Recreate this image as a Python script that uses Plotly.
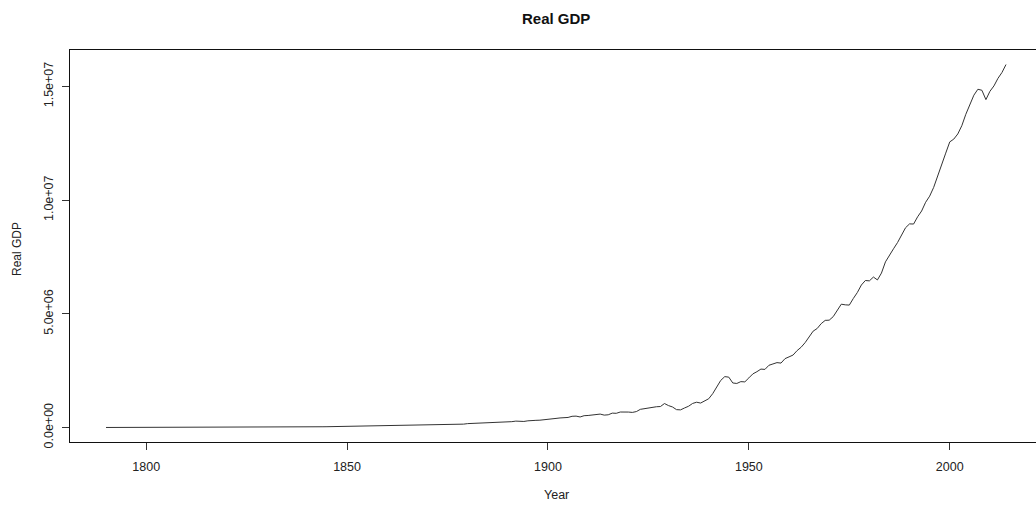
import plotly.graph_objects as go

years = list(range(1790, 2015))

gdp_1790_1928 = [
    4028, 4254, 4432, 4634, 4969, 5234, 5413, 5569, 5809, 6202,
    6537, 6954, 7206, 7253, 7581, 8046, 8461, 8536, 8380, 9127,
    9582, 9908, 10165, 10609, 10828, 10842, 10934, 11264, 11690, 11917,
    12490, 12968, 13550, 13837, 14478, 15303, 15691, 16591, 16854, 17228,
    19108, 20966, 22055, 23457, 23645, 25617, 27014, 27352, 28738, 30042,
    30165, 30819, 31971, 33501, 36282, 37852, 40849, 44151, 44924, 45480,
    48742, 52085, 56917, 61225, 64013, 66281, 68057, 69262, 71436, 77271,
    77863, 79143, 87074, 92152, 93616, 92998, 92141, 94285, 96796, 98518,
    98394, 100873, 104735, 112683, 112233, 114817, 123186, 130135, 136788, 150981,
    174281, 180154, 191183, 195311, 200227, 203859, 210541, 218945, 222081, 232253,
    251010, 259867, 284111, 274022, 269217, 297060, 293337, 318102, 325097, 352142,
    363574, 400129, 402931, 423061, 418952, 445131, 495957, 504195, 465780, 521985,
    531806, 546044, 574862, 593034, 547758, 562074, 634346, 626985, 683962, 691264,
    682418, 666007, 702698, 802111, 828089, 853109, 906860, 916064, 924999,
]

gdp_1929_2014 = [
    1056600, 966700, 904800, 788200, 778300, 862200, 939000, 1060500, 1114600, 1077700,
    1163600, 1266100, 1490300, 1771800, 2073700, 2239400, 2217800, 1960900, 1939400, 2020000,
    2008900, 2184000, 2360000, 2456100, 2571400, 2556900, 2739000, 2797400, 2856300, 2835300,
    3031000, 3108700, 3188100, 3383100, 3530400, 3734000, 3976700, 4238900, 4355200, 4569000,
    4712500, 4722000, 4877600, 5134300, 5424100, 5396000, 5385400, 5675400, 5937000, 6267200,
    6466200, 6450400, 6617700, 6491300, 6792000, 7285000, 7593800, 7860500, 8132600, 8474500,
    8786400, 8955000, 8948400, 9266600, 9521000, 9905400, 10174800, 10561000, 11034900, 11525900,
    12065900, 12559700, 12682200, 12908800, 13271100, 13773500, 14234200, 14613800, 14873700, 14830400,
    14418700, 14783800, 15020600, 15354600, 15612200, 15961700,
]

real_gdp = gdp_1790_1928 + gdp_1929_2014

y_tickvals = [0, 5e6, 1e7, 1.5e7]
y_ticktext = ["0.0e+00", "5.0e+06", "1.0e+07", "1.5e+07"]
x_tickvals = [1800, 1850, 1900, 1950, 2000]

FONT = "Liberation Sans, Arial, Helvetica, sans-serif"

# R-style 4% axis padding
x0, x1 = min(years), max(years)
xpad = 0.04 * (x1 - x0)
xr = [x0 - xpad, x1 + xpad]
y0, y1 = min(real_gdp), max(real_gdp)
ypad = 0.04 * (y1 - y0)
yr = [y0 - ypad, y1 + ypad]

W, H = 1036, 506
ml, mt, mb = 70, 50, 64
# R plot region extends slightly past the right edge of the image
full_right_px = 1042
vis_frac = (W - ml) / (full_right_px - ml)
xr_vis = [xr[0], xr[0] + (xr[1] - xr[0]) * vis_frac]
xmid = (xr[0] + xr[1]) / 2

fig = go.Figure()
fig.add_trace(go.Scatter(
    x=years, y=real_gdp, mode="lines",
    line=dict(color="#333333", width=1),
    hoverinfo="x+y", showlegend=False,
))

fig.update_layout(
    width=W, height=H,
    margin=dict(l=ml, r=0, t=mt, b=mb, pad=0),
    paper_bgcolor="white", plot_bgcolor="white",
    font=dict(family=FONT, size=12, color="#111111"),
    showlegend=False,
    xaxis=dict(
        range=xr_vis, tickmode="array", tickvals=x_tickvals,
        ticks="outside", ticklen=7, tickwidth=1, tickcolor="#333333",
        showline=True, linecolor="#111111", linewidth=1, mirror=True,
        showgrid=False, zeroline=False, automargin=False,
        tickfont=dict(size=12.5, color="#222222"),
        ticklabelstandoff=6,
    ),
    yaxis=dict(
        range=yr, tickmode="array", tickvals=y_tickvals, ticktext=y_ticktext,
        ticks="outside", ticklen=7, tickwidth=1, tickcolor="#333333",
        showline=True, linecolor="#111111", linewidth=1, mirror=False,
        showgrid=False, zeroline=False, tickangle=-90, automargin=False,
        tickfont=dict(size=12.5, color="#222222"),
        ticklabelstandoff=4,
    ),
    annotations=[
        dict(text="<b>Real GDP</b>", xref="x", yref="paper", x=xmid, y=1,
             yanchor="middle", yshift=32, showarrow=False,
             font=dict(size=15, color="#111111")),
        dict(text="Year", xref="x", yref="paper", x=xmid, y=0,
             yanchor="middle", yshift=-53, showarrow=False,
             font=dict(size=12.5, color="#222222")),
        dict(text="Real GDP", xref="paper", yref="paper", x=0, y=0.5,
             xanchor="center", yanchor="middle", xshift=-53, yshift=-3,
             textangle=-90, showarrow=False,
             font=dict(size=12, color="#222222")),
    ],
)

fig.write_html(
    "out.html",
    config={"displayModeBar": False},
    post_script="document.body.style.margin='0';document.body.style.overflow='hidden';",
)
